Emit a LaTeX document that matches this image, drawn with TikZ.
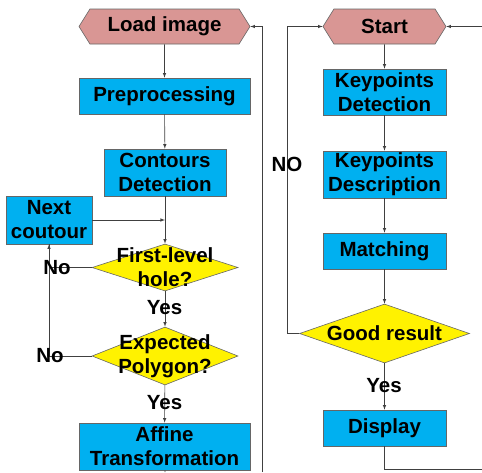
\documentclass[tikz,border=0pt]{standalone}
\usepackage{fontspec}
\setmainfont{Liberation Sans}
\usetikzlibrary{shapes.geometric,shapes.symbols}
\usetikzlibrary{positioning}

\definecolor{boxblue}{RGB}{0,176,240}
\definecolor{hexpink}{RGB}{217,150,148}
\definecolor{linegray}{RGB}{64,64,64}

\begin{document}
\begin{tikzpicture}[
	x=1pt, y=-1pt,
	> = latex,
	every node/.style = {font=\fontsize{20.5}{24}\selectfont\bfseries, align=center},
	box/.style = {draw=linegray!80, fill=boxblue, inner sep=0pt, line width=0.6pt},
	hexa/.style = {draw=linegray!80, fill=hexpink, shape=signal, signal to=east and west,
		signal pointer angle=116, inner sep=0pt, minimum height=35pt, line width=0.6pt},
	decision/.style = {draw=linegray!80, fill=yellow, shape=diamond, inner sep=0pt, line width=0.6pt},
	flow/.style = {draw=linegray, line width=0.6pt}
  ]
	\useasboundingbox (0,0) rectangle (482,472);

	% left column
	\node[hexa, minimum width=171pt] (load) at (164.5,26.5) {Load image};
	\node[box, minimum width=171pt, minimum height=36pt] (prep) at (164.5,96) {Preprocessing};
	\node[box, minimum width=122pt, minimum height=47pt] (cont) at (165,172.5) {Contours\\Detection};
	\node[box, minimum width=86pt, minimum height=48pt] (next) at (49,220) {Next\\coutour};
	\node[decision, minimum width=146pt, minimum height=47pt] (hole) at (165,267.5) {};
	\node (holetxt) at (hole) {First-level\\hole?};
	\node[decision, minimum width=146pt, minimum height=58pt] (poly) at (165,356) {};
	\node (polytxt) at (poly) {Expected\\Polygon?};
	\node[box, minimum width=171pt, minimum height=47pt] (affine) at (164.5,446.5) {Affine\\Transformation};

	\coordinate (@join) at (165,220);
	\coordinate (@outL) at (165,472);
	\coordinate (@backL) at (262,472);

	\draw[flow,->] (load) -- (prep);
	\draw[flow,->] (prep) -- (cont);
	\draw[flow,->] (cont) -- (hole);
	\draw[flow,->] (next.east) -- (@join);
	\draw[flow,->] (hole.west) -| (next.south);
	\draw[flow] (poly.west) -| (next.south);
	\draw[flow,->] (hole) -- (poly);
	\draw[flow,->] (poly) -- (affine);
	\draw[flow] (affine) -- (@outL);
	\draw[flow,->] (@backL) |- (load.east);

	\node (no1) at (57,267.5) {No};
	\node (no2) at (50,356) {No};
	\node (yes1) at (164.5,308) {Yes};
	\node (yes2) at (164.5,403) {Yes};

	% right column
	\node[hexa, minimum width=123pt] (start) at (384.5,26.5) {Start};
	\node[box, minimum width=123pt, minimum height=46pt] (kdet) at (384.5,92) {Keypoints\\Detection};
	\node[box, minimum width=123pt, minimum height=47pt] (kdesc) at (384.5,174.5) {Keypoints\\Description};
	\node[box, minimum width=123pt, minimum height=36pt] (match) at (384.5,251) {Matching};
	\node[decision, minimum width=170pt, minimum height=59pt] (good) at (384.5,333.5) {};
	\node (goodtxt) at (good) {Good result};
	\node[box, minimum width=123pt, minimum height=36pt] (disp) at (384.5,428) {Display};

	\coordinate (@inR) at (482,26.5);
	\coordinate (@loopR) at (287,333.5);
	\coordinate (@outR) at (482,469);

	\draw[flow,->] (@inR) -- (start.east);
	\draw[flow,->] (start) -- (kdet);
	\draw[flow,->] (kdet) -- (kdesc);
	\draw[flow,->] (kdesc) -- (match);
	\draw[flow,->] (match) -- (good);
	\draw[flow,->] (good) -- (disp);
	\draw[flow,->] (good.west) -- (@loopR) |- (start.west);
	\draw[flow] (disp.south) |- (@outR);

	\node (no3) at (287,164) {NO};
	\node (yes3) at (384,386) {Yes};

\end{tikzpicture}
\end{document}
